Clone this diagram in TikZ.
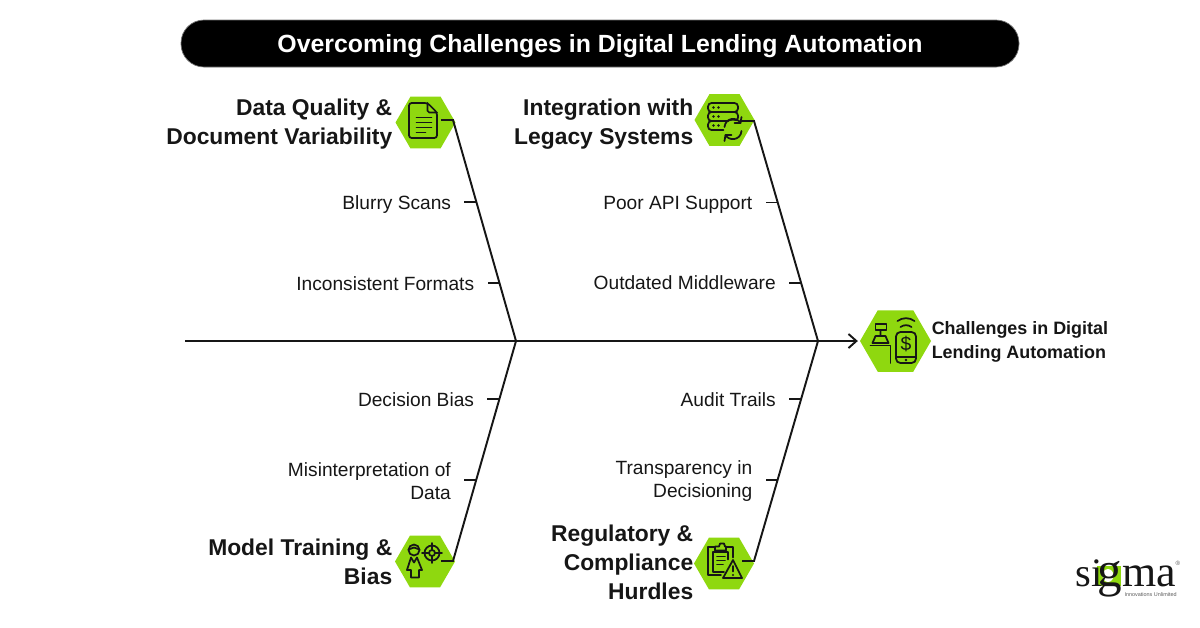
\documentclass[tikz,border=0pt]{standalone}
\usepackage{fontspec}
\setmainfont{Liberation Sans}
\usetikzlibrary{shapes.geometric, arrows.meta, positioning}
\definecolor{hexgreen}{HTML}{8FD80F}
\definecolor{inkblack}{HTML}{161616}
\tikzset{
    hexnode/.style={regular polygon, regular polygon sides=6, fill=hexgreen, inner sep=0pt, minimum size=60*0.02cm},
    headtext/.style={font=\bfseries\fontsize{13}{16.5}\selectfont, align=right, inner sep=0pt, text=inkblack},
    ribtext/.style={font=\fontsize{10.9}{13}\selectfont, align=right, inner sep=0pt, text=inkblack},
    ribone/.style={ribtext, text height=8pt, text depth=0pt},
    boneline/.style={draw=inkblack, line width=1.1pt},
    ribline/.style={draw=inkblack, line width=0.8pt},
    iconline/.style={draw=inkblack, line width=1pt, line cap=round, line join=round},
}
\begin{document}
\begin{tikzpicture}[x=0.02cm, y=-0.02cm]
    \useasboundingbox (0,0) rectangle (1200,627);
    % title
    \node [draw=inkblack!60, fill=black, rounded corners=23*0.02cm, minimum width=838*0.02cm, minimum height=47*0.02cm, inner sep=0pt, text=white, text height=9.8pt, text depth=0pt, font=\bfseries\fontsize{14.15}{18}\selectfont] (title) at (600,43.5) {Overcoming Challenges in Digital Lending Automation};

    % hexagons
    \node [hexnode] (hexdata) at (425.5,122.5) {};
    \node [hexnode] (hexlegacy) at (724.5,120) {};
    \node [hexnode] (hexmodel) at (425,561.5) {};
    \node [hexnode] (hexreg) at (724,563.5) {};
    \node [hexnode, minimum size=71*0.02cm] (hexgoal) at (895.5,341) {};

    % headings
    \node [headtext, left=2.5*0.02cm of hexdata, yshift=-0.03cm] (headdata) {Data Quality \&\\Document Variability};
    \node [headtext, left=0.5*0.02cm of hexlegacy, yshift=-0.08cm] (headlegacy) {Integration with\\Legacy Systems};
    \node [headtext, left=2*0.02cm of hexmodel] (headmodel) {Model Training \&\\Bias};
    \node [headtext, left=0pt of hexreg, yshift=0.03cm] (headreg) {Regulatory \&\\Compliance\\Hurdles};
    \node [right=0pt of hexgoal, yshift=-0.02cm, inner sep=0pt, align=left, text=inkblack, font=\bfseries\fontsize{10.2}{13.3}\selectfont] (headgoal) {Challenges in Digital\\Lending Automation};

    % spine
    \coordinate (tail) at (185,341);
    \coordinate (joinleft) at (516,341);
    \coordinate (joinright) at (818,341);
    \draw [boneline, shorten >=1pt, -{Straight Barb[length=4.5pt, width=8pt]}] (tail) -- (hexgoal.west);

    % bones
    \coordinate (stemdata) at (441,120);
    \coordinate (kneedata) at (453,120);
    \coordinate (stemlegacy) at (740,121);
    \coordinate (kneelegacy) at (754,121);
    \coordinate (stemmodel) at (441,561);
    \coordinate (kneemodel) at (453,561);
    \coordinate (stemreg) at (742,561);
    \coordinate (kneereg) at (754,561);
    \draw [boneline] (stemdata) -- (kneedata) -- coordinate[pos=.371] (ribblurry) coordinate[pos=.738] (ribformats) (joinleft);
    \draw [boneline] (stemlegacy) -- (kneelegacy) -- coordinate[pos=.37] (ribapi) coordinate[pos=.736] (ribmiddleware) (joinright);
    \draw [boneline] (stemmodel) -- (kneemodel) -- coordinate[pos=.368] (ribmisread) coordinate[pos=.736] (ribdecision) (joinleft);
    \draw [boneline] (stemreg) -- (kneereg) -- coordinate[pos=.368] (ribtransparency) coordinate[pos=.736] (ribaudit) (joinright);

    % ribs
    \draw [ribline] (ribblurry) -- ++(-12,0) coordinate (tickblurry);
    \draw [ribline] (ribformats) -- ++(-12,0) coordinate (tickformats);
    \draw [ribline] (ribapi) -- ++(-12,0) coordinate (tickapi);
    \draw [ribline] (ribmiddleware) -- ++(-12,0) coordinate (tickmiddleware);
    \draw [ribline] (ribdecision) -- ++(-12,0) coordinate (tickdecision);
    \draw [ribline] (ribmisread) -- ++(-12,0) coordinate (tickmisread);
    \draw [ribline] (ribaudit) -- ++(-12,0) coordinate (tickaudit);
    \draw [ribline] (ribtransparency) -- ++(-12,0) coordinate (ticktransparency);

    % rib labels
    \node [ribone, left=13*0.02cm of tickblurry] (blurry) {Blurry Scans};
    \node [ribone, left=13*0.02cm of tickformats] (formats) {Inconsistent Formats};
    \node [ribone, left=13*0.02cm of tickapi] (api) {Poor API Support};
    \node [ribone, left=13*0.02cm of tickmiddleware] (middleware) {Outdated Middleware};
    \node [ribone, left=13*0.02cm of tickdecision] (decision) {Decision Bias};
    \node [ribtext, left=13*0.02cm of tickmisread, yshift=-0.02cm] (misread) {Misinterpretation of\\Data};
    \node [ribone, left=13*0.02cm of tickaudit] (audit) {Audit Trails};
    \node [ribtext, left=13*0.02cm of ticktransparency, yshift=-0.02cm] (transparency) {Transparency in\\Decisioning};

    % document icon
    \begin{scope}[shift={(hexdata.center)}]
        \draw [iconline, rounded corners=1.5pt] (-16.5,-19.5) -- (2,-19.5) -- (11.5,-10) -- (11.5,15.5) -- (-16.5,15.5) -- cycle;
        \draw [iconline, rounded corners=1pt] (2,-19.5) -- (2,-10) -- (11.5,-10);
        \draw [iconline] (-9,-5) -- (6,-5) (-9,0) -- (6,0) (-9,5) -- (6,5) (-9,10) -- (0,10);
    \end{scope}

    % server icon
    \begin{scope}[shift={(hexlegacy.center)}]
        \draw [iconline, rounded corners=2pt] (-16.5,-17) rectangle (13.5,-8);
        \draw [iconline, rounded corners=2pt] (-16.5,-8) rectangle (13.5,1);
        \draw [iconline, rounded corners=2pt] (-1,10) -- (-16.5,10) -- (-16.5,1) -- (3,1);
        \foreach \rowy in {-12.5,-3.5,5.5}
            \fill [inkblack] (-11,\rowy) circle (1.4) (-6,\rowy) circle (1.4);
        \fill [hexgreen] (8.5,9) circle (8.5);
        \draw [iconline] (0,7) .. controls (1,-3) and (13,-3) .. (16,3);
        \draw [iconline] (17,11) .. controls (16,21) and (4,21) .. (1,15);
        \draw [iconline] (17,-3) -- (16,3) -- (10,3) (0,21) -- (1,15) -- (7,15);
    \end{scope}

    % register and phone icon
    \begin{scope}[shift={(hexgoal.center)}]
        \draw [iconline] (-20,-17) rectangle (-9,-11);
        \draw [iconline] (-15,-11) -- (-15,-5) (-20,-5) -- (-10,-5) -- (-7,2) -- (-23,2) -- cycle;
        \draw [iconline] (-25,4.5) -- (-5,4.5) -- (-5,22);
        \draw [iconline, rounded corners=2.5pt] (0.5,-9) rectangle (20.5,22);
        \draw [iconline] (0.5,16) -- (20.5,16);
        \fill [inkblack] (10.5,19) circle (1.3);
        \node [inner sep=0pt, text=inkblack, font=\fontsize{11}{11}\selectfont] (dollar) at (10.5,3) {\$};
        \draw [iconline] (5,-14) to[out=35, in=145] (16,-14);
        \draw [iconline] (2,-20) to[out=35, in=145] (19,-20);
    \end{scope}

    % person and target icon
    \begin{scope}[shift={(hexmodel.center)}]
        \draw [iconline] (-11,-11.5) circle (5.5);
        \draw [iconline] (-16.5,-12) -- (-11,-14) -- (-5.5,-12);
        \draw [iconline] (-14,-4) -- (-18,8.5) -- (-14,8.5) -- (-14,16) -- (-6,16) -- (-6,8.5) -- (-3,8.5) -- (-8,-4);
        \draw [iconline] (-14,-4) -- (-11,1) -- (-8,-4);
        \draw [iconline] (7,-8.5) circle (7.5) (7,-8.5) circle (3);
        \draw [iconline] (7,-18.5) -- (7,-12) (7,-5) -- (7,1.5) (-3,-8.5) -- (3.5,-8.5) (10.5,-8.5) -- (17,-8.5);
    \end{scope}

    % clipboard and warning icon
    \begin{scope}[shift={(hexreg.center)}]
        \draw [iconline] (-9,-16.5) -- (-16,-16.5) -- (-16,11.5) -- (-3,11.5);
        \draw [iconline] (2,-16.5) -- (9,-16.5) -- (9,-6);
        \draw [iconline] (-9,-13) -- (-9,-17) -- (-5,-17) -- (-4,-20) -- (0,-20) -- (1,-17) -- (2,-17) -- (2,-13) -- cycle;
        \draw [iconline] (0,8.5) -- (-11,8.5) -- (-11,-11.5) -- (4,-11.5) -- (4,-4);
        \draw [iconline] (-7,-7) -- (1,-7) (-7,-3) -- (1,-3) (-7,1) -- (-1,1);
        \draw [iconline, fill=hexgreen] (9,-3.5) -- (18,14.5) -- (-1,14.5) -- cycle;
        \draw [iconline] (9,2.5) -- (9,8);
        \fill [inkblack] (9,11.5) circle (1.2);
    \end{scope}

    % logo
    \fill [hexgreen] (1097,566) rectangle (1121,586);
    \fill [white] (1108,575.5) ellipse (5.5 and 6.5);
    \node [inner sep=0pt, text depth=0pt, anchor=base west, text=inkblack, font=\fontsize{23}{24}\selectfont] (logo) at (1075,586) {\fontspec{Liberation Serif}si\kern-2.5pt{\fontsize{28}{24}\selectfont g}{\fontsize{25}{24}\selectfont ma}};
    \node [inner sep=0pt, anchor=east, text=inkblack!70, font=\fontsize{3.1}{4}\selectfont] (tagline) at (1177,595) {Innovations Unlimited};
    \node [inner sep=0pt, text=inkblack!70, font=\fontsize{3.5}{4}\selectfont] (regmark) at (1178,563) {®};
\end{tikzpicture}
\end{document}
